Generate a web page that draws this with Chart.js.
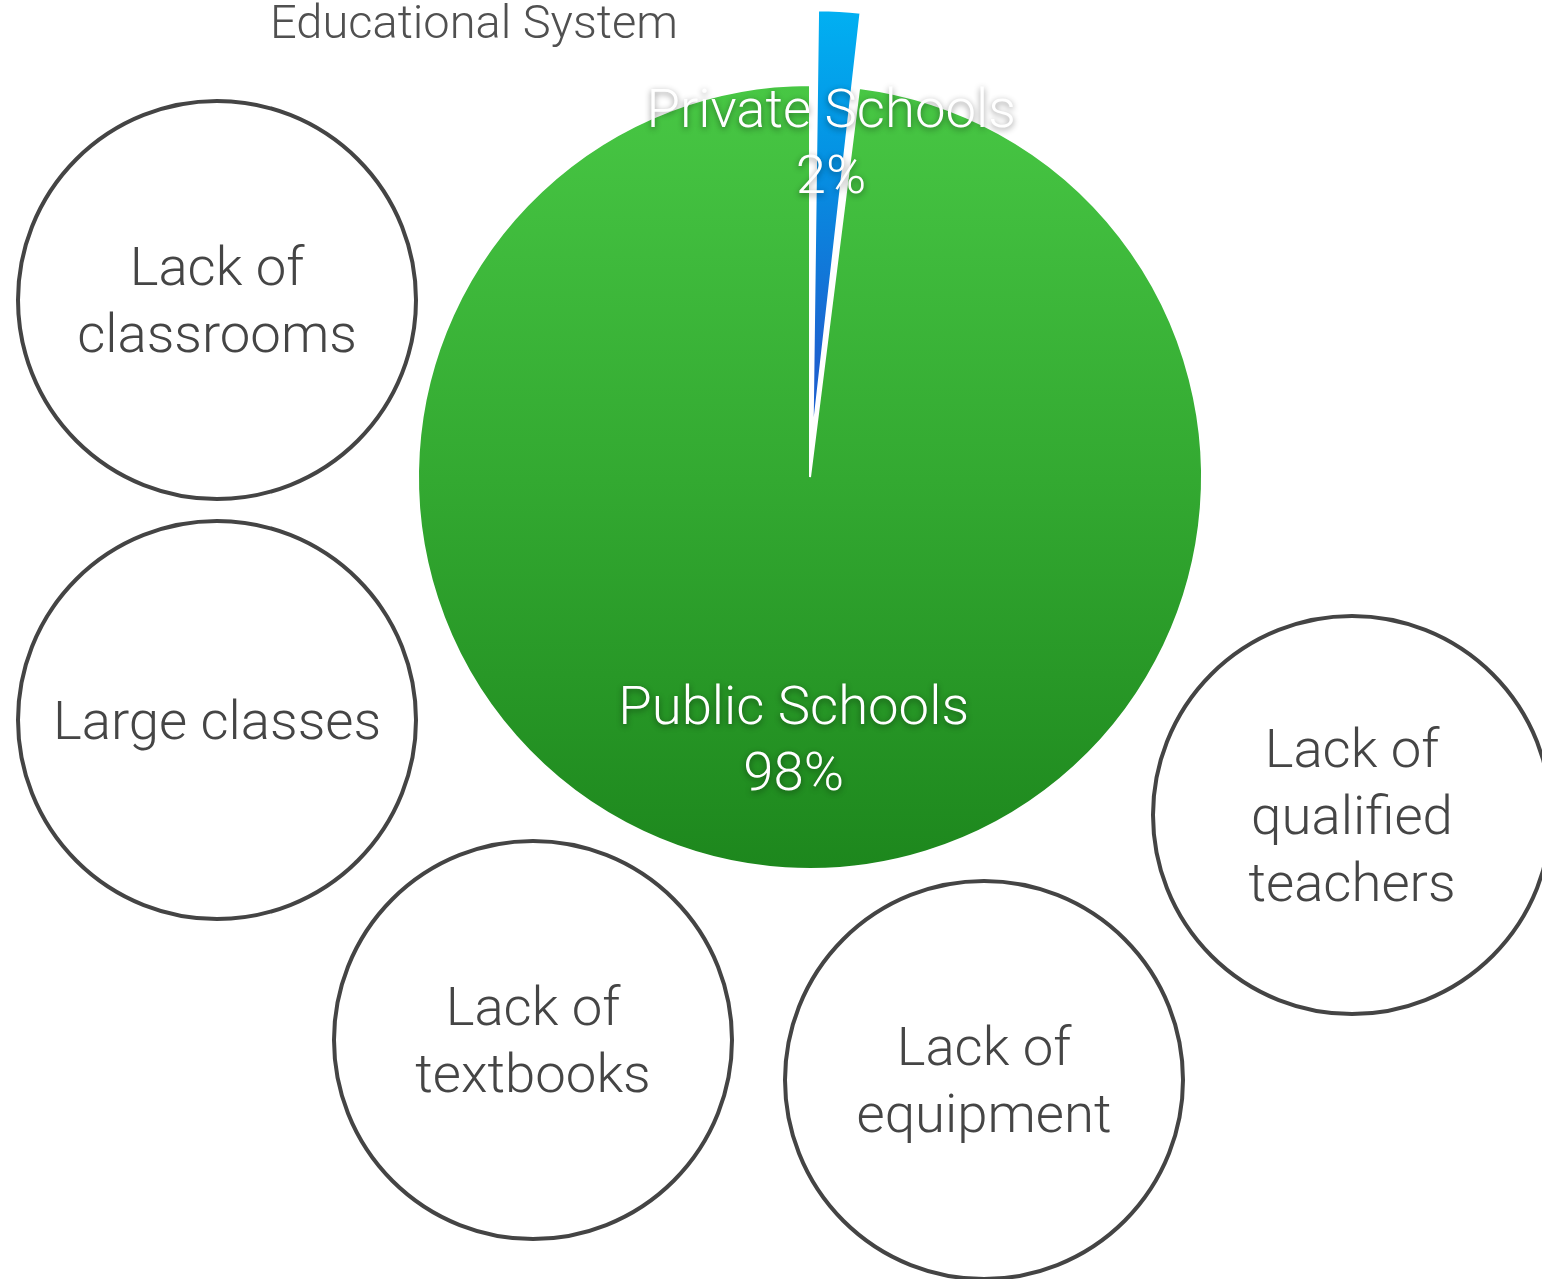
<!DOCTYPE html>
<html>
<head>
<meta charset="utf-8">
<script src="https://cdn.jsdelivr.net/npm/chart.js@4/dist/chart.umd.min.js"></script>
<style>
  html, body { margin: 0; padding: 0; background: #fff; }
  #wrap { position: relative; width: 1542px; height: 1279px; overflow: hidden; font-family: Roboto, "Liberation Sans", sans-serif; }
  #pie { position: absolute; left: 0; top: 0; }
  .title { position: absolute; left: 270px; top: -2px; font-size: 47px; line-height: 47px; font-weight: 300; color: #505050; white-space: nowrap; }
  .issue { position: absolute; box-sizing: border-box; width: 402px; height: 402px; border: 4px solid #444;
           border-radius: 50%; display: flex; align-items: center; justify-content: center; text-align: center;
           font-size: 54.5px; font-weight: 300; line-height: 67px; color: #454545; }
</style>
</head>
<body>
<div id="wrap">
  <canvas id="pie" width="1542" height="1279"></canvas>
  <div class="title">Educational System</div>
</div>
<script>
// pie data
const categories = ['Private Schools', 'Public Schools'];
const shares = [2, 98];

// issues shown around the pie
const issues = [
  ['Lack of', 'classrooms'],
  ['Large classes'],
  ['Lack of', 'textbooks'],
  ['Lack of', 'equipment'],
  ['Lack of', 'qualified', 'teachers']
];
// circle centres (layout only)
const issueCentres = [[217, 300], [217, 720], [533, 1040], [984, 1080], [1352, 815]];

const wrap = document.getElementById('wrap');
issues.forEach((lines, i) => {
  const d = document.createElement('div');
  d.className = 'issue';
  d.style.left = (issueCentres[i][0] - 201) + 'px';
  d.style.top = (issueCentres[i][1] - 201) + 'px';
  d.innerHTML = '<div>' + lines.join('<br>') + '</div>';
  wrap.appendChild(d);
});

const RADIUS = 392;
const OFFSETS = [160, 0];

function fill(c) {
  const chart = c.chart;
  const a = chart.chartArea;
  if (!a) return c.dataIndex === 0 ? '#0a8fe0' : '#34ac32';
  const cy = (a.top + a.bottom) / 2;
  if (c.dataIndex === 0) {
    const g2 = chart.ctx.createLinearGradient(0, cy - RADIUS - 75, 0, cy - 75);
    g2.addColorStop(0, '#00b8f6');
    g2.addColorStop(0.5, '#0590e2');
    g2.addColorStop(1, '#1c62d0');
    return g2;
  }
  const g = chart.ctx.createLinearGradient(0, cy - RADIUS - 80, 0, cy + RADIUS);
  g.addColorStop(0, '#4ccd48');
  g.addColorStop(0.55, '#33a931');
  g.addColorStop(1, '#1d871d');
  return g;
}

const sliceLabels = {
  id: 'sliceLabels',
  afterDatasetsDraw(chart) {
    const ctx = chart.ctx;
    const meta = chart.getDatasetMeta(0);
    meta.data.forEach((arc, i) => {
      const p = arc.getProps(['x', 'y', 'startAngle', 'endAngle', 'outerRadius', 'circumference']);
      const mid = (p.startAngle + p.endAngle) / 2;
      const off = (arc.options.offset || 0) / 4;
      const shift = off * (2 - Math.sin(Math.min(Math.PI, p.circumference)));
      const r = p.outerRadius * 0.667 + shift;
      const x = p.x + Math.cos(mid) * r;
      const y = p.y + Math.sin(mid) * r + 5;
      ctx.save();
      ctx.font = '300 54.5px Roboto, "Liberation Sans", sans-serif';
      ctx.textAlign = 'center';
      ctx.textBaseline = 'middle';
      ctx.fillStyle = '#fff';
      ctx.shadowColor = 'rgba(0,0,0,0.45)';
      ctx.shadowBlur = 6;
      ctx.shadowOffsetY = 2;
      ctx.fillText(categories[i], x, y - 33);
      ctx.fillText(shares[i] + '%', x, y + 33);
      ctx.restore();
    });
  }
};

new Chart(document.getElementById('pie'), {
  type: 'pie',
  data: {
    labels: categories,
    datasets: [{
      data: shares,
      backgroundColor: fill,
      borderColor: '#fff',
      borderWidth: 2,
      offset: OFFSETS,
      hoverOffset: 0,
      radius: RADIUS
    }]
  },
  options: {
    responsive: false,
    animation: false,
    events: [],
    layout: { padding: { left: 78, right: 0, top: 0, bottom: 325 } },
    plugins: {
      legend: { display: false },
      tooltip: { enabled: false },
      title: { display: false }
    }
  },
  plugins: [sliceLabels]
});
</script>
</body>
</html>
